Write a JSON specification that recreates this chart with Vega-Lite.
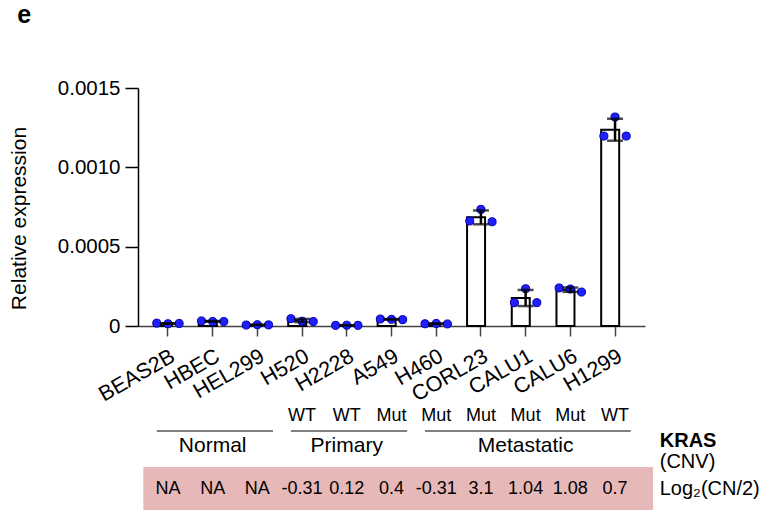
{
  "$schema": "https://vega.github.io/schema/vega-lite/v6.json",
  "background": "white",
  "padding": {"left": 8, "top": 3, "right": 0, "bottom": 0},
  "autosize": {"type": "pad"},
  "title": {"text": "e", "anchor": "start", "frame": "bounds", "fontSize": 25, "fontWeight": "bold", "font": "Liberation Sans", "color": "black", "offset": 50, "dx": 9},
  "config": {
    "view": {"stroke": null},
    "font": "Liberation Sans",
    "text": {"font": "Liberation Sans", "color": "black"},
    "axis": {"labelFont": "Liberation Sans", "titleFont": "Liberation Sans", "labelColor": "black", "titleColor": "black", "grid": false}
  },
  "datasets": {
    "reps": [
      {"cell": "BEAS2B", "rep": 1, "value": 0.000018},
      {"cell": "BEAS2B", "rep": 2, "value": 0.000014},
      {"cell": "BEAS2B", "rep": 3, "value": 0.000016},
      {"cell": "HBEC", "rep": 1, "value": 0.000032},
      {"cell": "HBEC", "rep": 2, "value": 0.000028},
      {"cell": "HBEC", "rep": 3, "value": 0.000028},
      {"cell": "HEL299", "rep": 1, "value": 0.000006},
      {"cell": "HEL299", "rep": 2, "value": 0.000008},
      {"cell": "HEL299", "rep": 3, "value": 0.000007},
      {"cell": "H520", "rep": 1, "value": 0.000046},
      {"cell": "H520", "rep": 2, "value": 0.000030},
      {"cell": "H520", "rep": 3, "value": 0.000028},
      {"cell": "H2228", "rep": 1, "value": 0.000004},
      {"cell": "H2228", "rep": 2, "value": 0.000005},
      {"cell": "H2228", "rep": 3, "value": 0.000004},
      {"cell": "A549", "rep": 1, "value": 0.000044},
      {"cell": "A549", "rep": 2, "value": 0.000042},
      {"cell": "A549", "rep": 3, "value": 0.000040},
      {"cell": "H460", "rep": 1, "value": 0.000014},
      {"cell": "H460", "rep": 2, "value": 0.000016},
      {"cell": "H460", "rep": 3, "value": 0.000013},
      {"cell": "CORL23", "rep": 1, "value": 0.000662},
      {"cell": "CORL23", "rep": 2, "value": 0.000735},
      {"cell": "CORL23", "rep": 3, "value": 0.000657},
      {"cell": "CALU1", "rep": 1, "value": 0.000147},
      {"cell": "CALU1", "rep": 2, "value": 0.000235},
      {"cell": "CALU1", "rep": 3, "value": 0.000147},
      {"cell": "CALU6", "rep": 1, "value": 0.000240},
      {"cell": "CALU6", "rep": 2, "value": 0.000233},
      {"cell": "CALU6", "rep": 3, "value": 0.000214},
      {"cell": "H1299", "rep": 1, "value": 0.001197},
      {"cell": "H1299", "rep": 2, "value": 0.001317},
      {"cell": "H1299", "rep": 3, "value": 0.001197}
    ],
    "kras": [
      {"cell": "H520", "row": "kras", "kras": "WT"},
      {"cell": "H2228", "row": "kras", "kras": "WT"},
      {"cell": "A549", "row": "kras", "kras": "Mut"},
      {"cell": "H460", "row": "kras", "kras": "Mut"},
      {"cell": "CORL23", "row": "kras", "kras": "Mut"},
      {"cell": "CALU1", "row": "kras", "kras": "Mut"},
      {"cell": "CALU6", "row": "kras", "kras": "Mut"},
      {"cell": "H1299", "row": "kras", "kras": "WT"}
    ],
    "groups": [
      {"group": "Normal", "start": "BEAS2B", "end": "HEL299", "mid": "HBEC"},
      {"group": "Primary", "start": "H520", "end": "A549", "mid": "H2228"},
      {"group": "Metastatic", "start": "H460", "end": "H1299", "mid": "CALU1"}
    ],
    "strip": [
      {"start": "BEAS2B", "end": "H1299", "row": "cnv"}
    ],
    "cnv": [
      {"cell": "BEAS2B", "row": "cnv", "cnv": "NA"},
      {"cell": "HBEC", "row": "cnv", "cnv": "NA"},
      {"cell": "HEL299", "row": "cnv", "cnv": "NA"},
      {"cell": "H520", "row": "cnv", "cnv": "-0.31"},
      {"cell": "H2228", "row": "cnv", "cnv": "0.12"},
      {"cell": "A549", "row": "cnv", "cnv": "0.4"},
      {"cell": "H460", "row": "cnv", "cnv": "-0.31"},
      {"cell": "CORL23", "row": "cnv", "cnv": "3.1"},
      {"cell": "CALU1", "row": "cnv", "cnv": "1.04"},
      {"cell": "CALU6", "row": "cnv", "cnv": "1.08"},
      {"cell": "H1299", "row": "cnv", "cnv": "0.7"}
    ],
    "rowlabels": [
      {"col": "lab", "row": "line", "label": "KRAS"},
      {"col": "lab", "row": "cnvlab", "label": "(CNV)"},
      {"col": "lab", "row": "cnv", "label": "Log₂(CN/2)"}
    ]
  },
  "bounds": "flush",
  "spacing": 85,
  "resolve": {"scale": {"x": "independent"}},
  "vconcat": [
    {
      "width": 507,
      "height": 238,
      "data": {"name": "reps"},
      "encoding": {
        "x": {
          "field": "cell", "type": "nominal",
          "scale": {"type": "band", "domain": ["BEAS2B", "HBEC", "HEL299", "H520", "H2228", "A549", "H460", "CORL23", "CALU1", "CALU6", "H1299"], "paddingInner": 0, "paddingOuter": 0.17},
          "axis": {"title": null, "labelAngle": -30, "labelAlign": "right", "labelBaseline": "top", "labelPadding": 9, "tickSize": 10, "labelFontSize": 21.5, "domainColor": "#444", "tickColor": "#444", "domainWidth": 1.5, "tickWidth": 1.5}
        }
      },
      "layer": [
        {
          "mark": {"type": "bar", "fill": "white", "stroke": "black", "strokeWidth": 2, "width": {"band": 0.62}},
          "encoding": {
            "y": {
              "aggregate": "mean", "field": "value", "type": "quantitative",
              "title": "Relative expression",
              "scale": {"domain": [0, 0.0015], "nice": false},
              "axis": {"values": [0, 0.0005, 0.001, 0.0015], "labelExpr": "datum.value == 0 ? '0' : format(datum.value, '.4f')", "tickSize": 13, "labelPadding": 5, "titlePadding": 28, "titleY": 130, "labelFontSize": 20.5, "titleFontSize": 21, "titleFontWeight": "normal", "domainColor": "black", "tickColor": "black", "domainWidth": 1.5, "tickWidth": 1.5, "labelOverlap": false, "labelFlush": false}
            }
          }
        },
        {
          "mark": {"type": "circle", "size": 65, "fill": "#1f1fff", "stroke": "#0000aa", "strokeWidth": 1, "opacity": 1},
          "encoding": {
            "y": {"field": "value", "type": "quantitative", "title": "Relative expression"},
            "xOffset": {"field": "rep", "type": "ordinal", "scale": {"type": "point", "padding": 1.48}}
          }
        },
        {
          "mark": {"type": "errorbar", "extent": "stdev", "color": "black", "ticks": {"size": 16, "thickness": 2.5, "color": "black"}, "rule": {"strokeWidth": 2.5, "color": "black"}},
          "encoding": {
            "y": {"field": "value", "type": "quantitative", "title": "Relative expression"}
          }
        }
      ]
    },
    {
      "bounds": "flush",
      "spacing": 0,
      "resolve": {"scale": {"x": "independent"}},
      "vconcat": [
        {
          "width": 551.7,
          "height": 55.4,
          "layer": [
            {
              "data": {"name": "kras"},
              "mark": {"type": "text", "fontSize": 18},
              "encoding": {
                "x": {"field": "cell", "type": "nominal", "scale": {"type": "band", "domain": ["BEAS2B", "HBEC", "HEL299", "H520", "H2228", "A549", "H460", "CORL23", "CALU1", "CALU6", "H1299", "lab"], "paddingInner": 0, "paddingOuter": 0.17}, "axis": null},
                "y": {"field": "row", "type": "nominal", "scale": {"type": "point", "domain": ["kras", "line", "group", "cnvlab"], "padding": 0.3}, "axis": null},
                "text": {"field": "kras"}
              }
            },
            {
              "data": {"name": "groups"},
              "mark": {"type": "rule", "color": "black", "strokeWidth": 1.2},
              "encoding": {
                "x": {"field": "start", "type": "nominal", "bandPosition": 0.25},
                "x2": {"field": "end", "bandPosition": 0.85},
                "y": {"datum": "line", "type": "nominal"}
              }
            },
            {
              "data": {"name": "groups"},
              "mark": {"type": "text", "fontSize": 21},
              "encoding": {
                "x": {"field": "mid", "type": "nominal"},
                "y": {"datum": "group", "type": "nominal"},
                "text": {"field": "group"}
              }
            },
            {
              "data": {"name": "rowlabels"},
              "transform": [{"filter": "datum.label == 'KRAS'"}],
              "mark": {"type": "text", "fontSize": 20, "fontWeight": "bold", "align": "left", "baseline": "top"},
              "encoding": {
                "x": {"field": "col", "type": "nominal"},
                "y": {"field": "row", "type": "nominal"},
                "text": {"field": "label"}
              }
            },
            {
              "data": {"name": "rowlabels"},
              "transform": [{"filter": "datum.label == '(CNV)'"}],
              "mark": {"type": "text", "fontSize": 20, "align": "left"},
              "encoding": {
                "x": {"field": "col", "type": "nominal"},
                "y": {"field": "row", "type": "nominal"},
                "text": {"field": "label"}
              }
            }
          ]
        },
        {
          "width": 551.7,
          "height": 43.5,
          "layer": [
            {
              "data": {"name": "strip"},
              "mark": {"type": "rect", "fill": "#E6B8B7"},
              "encoding": {
                "x": {"field": "start", "type": "nominal", "bandPosition": -0.05, "scale": {"type": "band", "domain": ["BEAS2B", "HBEC", "HEL299", "H520", "H2228", "A549", "H460", "CORL23", "CALU1", "CALU6", "H1299", "lab"], "paddingInner": 0, "paddingOuter": 0.17}, "axis": null},
                "x2": {"field": "end", "bandPosition": 1.35},
                "y": {"field": "row", "type": "nominal", "scale": {"type": "band", "domain": ["cnv"], "paddingInner": 0, "paddingOuter": 0}, "axis": null}
              }
            },
            {
              "data": {"name": "cnv"},
              "mark": {"type": "text", "fontSize": 18},
              "encoding": {
                "x": {"field": "cell", "type": "nominal"},
                "y": {"field": "row", "type": "nominal"},
                "text": {"field": "cnv"}
              }
            },
            {
              "data": {"name": "rowlabels"},
              "transform": [{"filter": "datum.row == 'cnv'"}],
              "mark": {"type": "text", "fontSize": 20, "align": "left"},
              "encoding": {
                "x": {"field": "col", "type": "nominal"},
                "y": {"field": "row", "type": "nominal"},
                "text": {"field": "label"}
              }
            }
          ]
        }
      ]
    }
  ]
}
